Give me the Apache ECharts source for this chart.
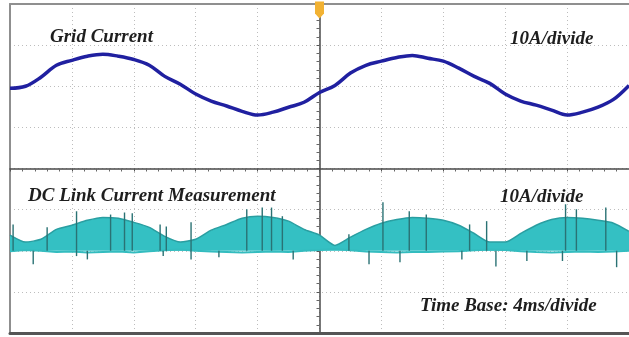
<!DOCTYPE html>
<html>
<head>
<meta charset="utf-8">
<script src="https://cdn.jsdelivr.net/npm/echarts@6/dist/echarts.min.js"></script>
<style>
  html, body { margin: 0; padding: 0; background: #fff; }
  #chart { width: 629px; height: 337px; }
</style>
</head>
<body>
<div id="chart"></div>
<script>
// time relative to trigger, ms (4 ms/div, 10 div on screen)
const timeMs = [-20, -19, -18, -17, -16, -15, -14, -13, -12, -11, -10, -9, -8, -7, -6, -5, -4, -3, -2, -1,
  0, 1, 2, 3, 4, 5, 6, 7, 8, 9, 10, 11, 12, 13, 14, 15, 16, 17, 18, 19, 20]

// channel 1: grid current, A (10 A/div)
const gridCurrent = [-0.5, 0, 2.2, 5.1, 6.3, 7.3, 7.8, 7.3, 6.5, 5.1, 2.4, 0.5, -1.9, -3.6, -4.8, -6.1, -7.0, -6.3, -5.1, -3.9,
  -1.5, 0.2, 3.2, 5.1, 6.1, 7.0, 7.5, 6.8, 6.1, 4.4, 2.4, 0.7, -1.9, -3.6, -4.6, -5.8, -7.0, -6.3, -5.1, -3.2, 0.2]

// channel 2: DC link current, lower / upper edge of the switching band, A (10 A/div)
const dcLow = [-0.1, 0.2, 0.0, -0.3, -0.2, -0.4, -0.3, -0.2, -0.4, -0.1, 0.1, 0.3, 0.0, -0.2, -0.3, -0.4, -0.3, -0.2, -0.3, 0.0,
  0.2, 0.4, 0.1, -0.2, -0.3, -0.4, -0.3, -0.3, -0.2, -0.1, 0.1, 0.3, 0.2, -0.1, -0.3, -0.4, -0.3, -0.2, -0.3, -0.2, 0.0]
const dcHigh = [3.8, 2.1, 2.8, 5.2, 6.2, 7.4, 8.1, 7.9, 6.9, 5.7, 3.5, 2.1, 2.8, 5.0, 6.4, 7.9, 8.4, 8.1, 7.2, 5.2,
  3.8, 1.3, 3.3, 5.2, 6.7, 7.6, 8.1, 7.9, 7.4, 6.2, 4.2, 2.1, 2.1, 4.2, 6.2, 7.6, 8.1, 7.9, 7.4, 6.7, 4.7]

// switching spikes on channel 2: [t ms, low A, high A]
const dcSpikes = [
  [-19.8, 0, 6.4], [-18.5, -3.3, 0], [-17.6, 0, 5.7], [-15.7, -1.3, 9.6], [-15.0, -2.1, 0],
  [-13.5, 0, 8.8], [-12.6, 0, 9.3], [-12.1, 0, 9.1], [-10.3, 0, 6.4], [-10.1, -1.3, 0],
  [-9.9, 0, 5.9], [-8.3, -2.1, 6.9], [-6.5, -1.6, 0], [-4.7, 0, 10.1], [-3.7, 0, 10.5],
  [-3.1, 0, 10.5], [-2.4, 0, 8.4], [-1.7, -2.1, 0], [1.9, 0, 4.0], [3.2, -3.3, 0],
  [4.1, 0, 11.8], [5.2, -2.8, 0], [5.8, 0, 9.6], [6.9, 0, 8.8], [9.2, -2.1, 0],
  [9.7, 0, 6.4], [10.8, 0, 7.2], [11.4, -3.8, 0], [13.4, -2.5, 0], [15.7, -2.5, 0],
  [15.9, 0, 11.3], [16.6, 0, 10.1], [18.5, 0, 10.5], [19.2, -4.0, 0]
]

// vertical channel positions, A (2 div up / 2 div down)
const ch1Offset = 20
const ch2Offset = -20

const chart = echarts.init(document.getElementById('chart'))

const labelFont = {
  fontFamily: 'Liberation Serif',
  fontStyle: 'italic',
  fontWeight: 'bold',
  fontSize: 19,
  color: '#1e1e1e',
}

const hidden = { show: false }
const borderAxis = (color, width) => ({
  type: 'value',
  min: 0, max: 1,
  axisLine: { onZero: false, lineStyle: { color, width } },
  axisTick: hidden,
  axisLabel: hidden,
  splitLine: hidden,
})

const option = {
  animation: false,
  backgroundColor: '#fff',
  title: [
    { text: 'Grid Current', left: 50, top: 28, padding: 0, textStyle: labelFont },
    { text: '10A/divide', left: 510, top: 30, padding: 0, textStyle: labelFont },
    { text: 'DC Link Current Measurement', left: 28, top: 187, padding: 0, textStyle: labelFont },
    { text: '10A/divide', left: 500, top: 188, padding: 0, textStyle: labelFont },
    { text: 'Time Base: 4ms/divide', left: 420, top: 297, padding: 0, textStyle: labelFont },
  ],
  grid: { left: 10, right: -1, top: 4, bottom: 4 },
  xAxis: [
    {
      type: 'value',
      min: -20, max: 20, interval: 4,
      axisLine: { onZero: true, lineStyle: { color: '#4a4a4a', width: 1.5 } },
      axisTick: { show: true, length: 3, lineStyle: { color: '#555' } },
      minorTick: { show: true, splitNumber: 5, length: 3, lineStyle: { color: '#666' } },
      axisLabel: hidden,
      splitLine: { lineStyle: { color: '#bdbdbd', type: [1, 3], width: 1 } },
    },
    Object.assign(borderAxis('#555', 3), { position: 'bottom' }),
    Object.assign(borderAxis('#8f8f8f', 2), { position: 'top' }),
  ],
  yAxis: [
    {
      type: 'value',
      min: -40, max: 40, interval: 10,
      axisLine: { onZero: true, lineStyle: { color: '#4a4a4a', width: 1.5 } },
      axisTick: { show: true, length: 3, lineStyle: { color: '#555' } },
      minorTick: { show: true, splitNumber: 5, length: 3, lineStyle: { color: '#666' } },
      axisLabel: hidden,
      splitLine: { lineStyle: { color: '#bdbdbd', type: [1, 3], width: 1 } },
    },
    Object.assign(borderAxis('#8f8f8f', 2), { position: 'left' }),
  ],
  series: [
    {
      name: 'DC band',
      type: 'line',
      symbol: 'none',
      smooth: 0.2,
      lineStyle: { color: '#2a9ea1', width: 1.5 },
      areaStyle: { color: '#34c0c3', opacity: 1, origin: ch2Offset },
      data: timeMs.map((t, i) => [t, dcHigh[i] + ch2Offset]),
      z: 2,
    },
    {
      name: 'DC low',
      type: 'line',
      symbol: 'none',
      lineStyle: { color: '#33bcbf', width: 2 },
      data: timeMs.map((t, i) => [t, dcLow[i] + ch2Offset]),
      z: 2,
    },
    {
      name: 'DC spikes',
      type: 'custom',
      data: dcSpikes.map(s => [s[0], s[1] + ch2Offset, s[2] + ch2Offset]),
      encode: { x: 0, y: [1, 2] },
      renderItem: (params, api) => {
        const a = api.coord([api.value(0), api.value(1)])
        const b = api.coord([api.value(0), api.value(2)])
        return {
          type: 'line',
          shape: { x1: a[0], y1: a[1], x2: b[0], y2: b[1] },
          style: { stroke: '#2a7274', lineWidth: 1.4 },
        }
      },
      z: 3,
    },
    {
      name: 'Grid Current',
      type: 'line',
      symbol: 'none',
      smooth: 0.35,
      lineStyle: { color: '#2020a0', width: 3.5 },
      data: timeMs.map((t, i) => [t, gridCurrent[i] + ch1Offset]),
      markPoint: {
        silent: true,
        symbol: 'path://M0,0 L10,0 L10,14 L5,20 L0,14 Z',
        symbolSize: [9, 17],
        symbolOffset: [0, 6],
        itemStyle: { color: '#f2b233' },
        label: hidden,
        data: [{ coord: [0, 40] }],
      },
      z: 4,
    },
  ],
}

chart.setOption(option)
</script>
</body>
</html>
